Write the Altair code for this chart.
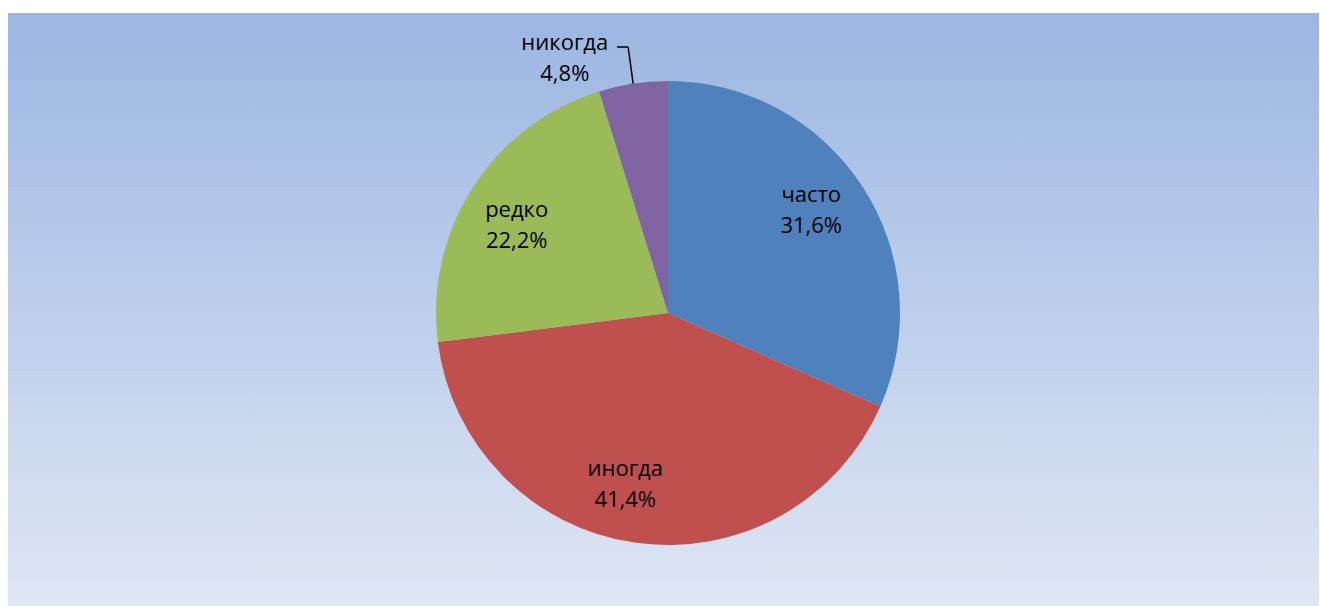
import math
import altair as alt
import pandas as pd

categories = ["часто", "иногда", "редко", "никогда"]
values = [31.6, 41.4, 22.2, 4.8]
colors = ["#4F81BD", "#C0504D", "#9BBB59", "#8064A2"]

W, H = 1320, 606
CX, CY, R = 668, 313, 232
FONT = "Open Sans"
FS = 22
LH = 31

df = pd.DataFrame({"cat": categories, "v": values, "i": list(range(len(categories)))})

bg = alt.Chart(pd.DataFrame({"a": [0]})).mark_rect(
    color=alt.Gradient(
        gradient="linear",
        stops=[alt.GradientStop(color="#9BB6E2", offset=0),
               alt.GradientStop(color="#DFE6F4", offset=1)],
        x1=0, x2=0, y1=0, y2=1,
    )
).encode(x=alt.value(8), x2=alt.value(1319), y=alt.value(13), y2=alt.value(606))

base = alt.Chart(df).transform_calculate(
    label="datum.cat + '\\n' + replace(format(datum.v, '.1f'), '.', ',') + '%'"
).encode(
    theta=alt.Theta("v:Q", stack=True),
    order=alt.Order("i:Q"),
    color=alt.Color("cat:N", scale=alt.Scale(domain=categories, range=colors), legend=None),
    x=alt.value(CX),
    y=alt.value(CY),
)

pie = base.mark_arc(outerRadius=R)

# label placement tweaks (degrees offset from slice middle, radius in px)
placement = {"часто": (-2.4, 176), "иногда": (5.7, 177), "редко": (-2.6, 175), "никогда": (-13.4, 275)}

label_layers = []
for c, (dth, rad) in placement.items():
    label_layers.append(
        base.mark_text(
            radius=rad, thetaOffset=math.radians(dth), font=FONT, fontSize=FS,
            lineBreak="\n", lineHeight=LH, baseline="middle", align="center", dy=-LH / 2
        ).encode(
            text=alt.condition(f"datum.cat == '{c}'", "label:N", alt.value("")),
            color=alt.value("black"),
        )
    )

# leader line for the small slice
start = sum(values[:3]) / sum(values)
mid = (start + values[3] / sum(values) / 2) * 2 * math.pi
ex, ey = CX + R * math.sin(mid), CY - R * math.cos(mid)
kx, ky = ex - 5, 47
hx = kx - 11

dummy = pd.DataFrame({"a": [0]})
lead1 = alt.Chart(dummy).mark_rule(color="black", strokeWidth=1.5).encode(
    x=alt.value(hx), x2=alt.value(kx), y=alt.value(ky), y2=alt.value(ky))
lead2 = alt.Chart(dummy).mark_rule(color="black", strokeWidth=1.5).encode(
    x=alt.value(kx), x2=alt.value(ex), y=alt.value(ky), y2=alt.value(ey))

chart = alt.layer(bg, pie, *label_layers, lead1, lead2).properties(
    width=W, height=H, padding=0, autosize=alt.AutoSizeParams(type="none"), background="white"
).configure_view(stroke=None)

chart.save("out.html", embed_options={"renderer": "svg", "actions": False})
